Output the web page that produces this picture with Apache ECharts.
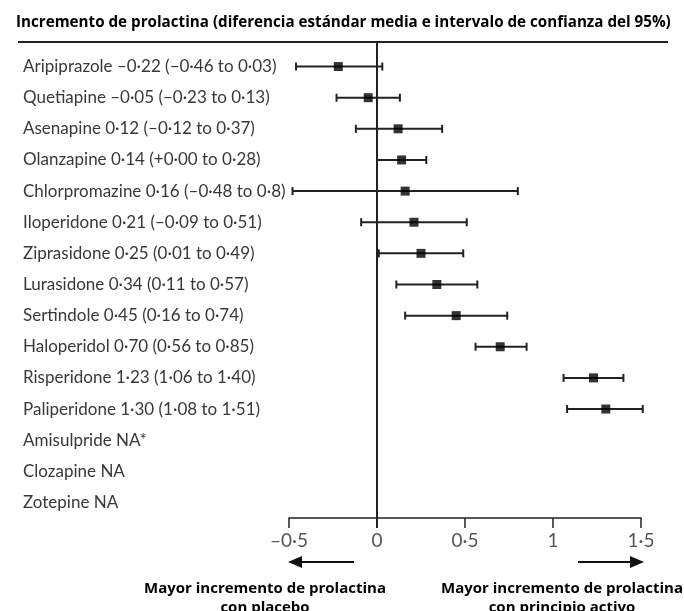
<!DOCTYPE html>
<html>
<head>
<meta charset="utf-8">
<script src="https://cdn.jsdelivr.net/npm/echarts@6/dist/echarts.min.js"></script>
<style>
html,body{margin:0;padding:0;background:#fff;}
#main{width:684px;height:611px;}
</style>
</head>
<body>
<div id="main"></div>
<script>
// 药物名称及标签
var labels = [
    'Aripiprazole –0·22 (–0·46 to 0·03)',
    'Quetiapine –0·05 (–0·23 to 0·13)',
    'Asenapine 0·12 (–0·12 to 0·37)',
    'Olanzapine 0·14 (+0·00 to 0·28)',
    'Chlorpromazine 0·16 (–0·48 to 0·8)',
    'Iloperidone 0·21 (–0·09 to 0·51)',
    'Ziprasidone 0·25 (0·01 to 0·49)',
    'Lurasidone 0·34 (0·11 to 0·57)',
    'Sertindole 0·45 (0·16 to 0·74)',
    'Haloperidol 0·70 (0·56 to 0·85)',
    'Risperidone 1·23 (1·06 to 1·40)',
    'Paliperidone 1·30 (1·08 to 1·51)',
    'Amisulpride NA*',
    'Clozapine NA',
    'Zotepine NA'
];
var means = [-0.22, -0.05, 0.12, 0.14, 0.16, 0.21, 0.25, 0.34, 0.45, 0.70, 1.23, 1.30, null, null, null];
var lower = [-0.46, -0.23, -0.12, 0.00, -0.48, -0.09, 0.01, 0.11, 0.16, 0.56, 1.06, 1.08, null, null, null];
var upper = [0.03, 0.13, 0.37, 0.28, 0.8, 0.51, 0.49, 0.57, 0.74, 0.85, 1.40, 1.51, null, null, null];
var xTicks = [-0.5, 0, 0.5, 1, 1.5];

var titleText = 'Incremento de prolactina (diferencia estándar media e intervalo de confianza del 95%)';
var leftNote = 'Mayor incremento de prolactina\ncon placebo';
var rightNote = 'Mayor incremento de prolactina\ncon principio activo';

var ciData = [], ptData = [];
for (var i = 0; i < labels.length; i++) {
    if (means[i] === null) continue;
    ciData.push([lower[i], upper[i], i]);
    ptData.push([means[i], i]);
}

function fmtTick(v) {
    return String(v).replace('-', '–').replace('.', '·');
}

var chart = echarts.init(document.getElementById('main'));
var option = {
    animation: false,
    title: {
        text: titleText,
        left: 11,
        top: 10,
        textStyle: {
            fontFamily: 'Open Sans',
            fontWeight: 'bold',
            fontSize: 15.2,
            color: '#000'
        }
    },
    grid: {
        left: 289,
        right: 43,
        top: 51,
        bottom: 93
    },
    xAxis: {
        type: 'value',
        min: -0.5,
        max: 1.5,
        interval: 0.5,
        splitLine: {show: false},
        axisLine: {show: true, onZero: false, lineStyle: {color: '#222', width: 1.5}},
        axisTick: {show: true, length: 10, lineStyle: {color: '#222', width: 1.5}},
        axisLabel: {
            margin: 13,
            color: '#555',
            fontFamily: 'Lato',
            fontSize: 19,
            formatter: function (v) {
                return xTicks.indexOf(v) >= 0 ? fmtTick(v) : '';
            }
        }
    },
    yAxis: {
        type: 'category',
        inverse: true,
        data: labels,
        axisLine: {show: false},
        axisTick: {show: false},
        splitLine: {show: false},
        axisLabel: {
            align: 'left',
            margin: 266,
            color: '#383838',
            fontFamily: 'Lato',
            fontSize: 17
        }
    },
    series: [{
        // 零参考线
        type: 'custom',
        silent: true,
        data: [[0]],
        renderItem: function (params, api) {
            var x = api.coord([0, 0])[0];
            var cs = params.coordSys;
            return {
                type: 'line',
                shape: {x1: x, y1: cs.y - 9, x2: x, y2: cs.y + cs.height + 10},
                style: {stroke: '#222', lineWidth: 2}
            };
        }
    }, {
        // 置信区间
        type: 'custom',
        silent: true,
        data: ciData,
        renderItem: function (params, api) {
            var p1 = api.coord([api.value(0), api.value(2)]);
            var p2 = api.coord([api.value(1), api.value(2)]);
            var h = 4;
            var st = {stroke: '#222', lineWidth: 2};
            return {
                type: 'group',
                children: [
                    {type: 'line', shape: {x1: p1[0], y1: p1[1], x2: p2[0], y2: p2[1]}, style: st},
                    {type: 'line', shape: {x1: p1[0], y1: p1[1] - h, x2: p1[0], y2: p1[1] + h}, style: st},
                    {type: 'line', shape: {x1: p2[0], y1: p2[1] - h, x2: p2[0], y2: p2[1] + h}, style: st}
                ]
            };
        }
    }, {
        type: 'scatter',
        silent: true,
        symbol: 'rect',
        symbolSize: 9,
        itemStyle: {color: '#000'},
        data: ptData,
        z: 3
    }],
    graphic: [{
        type: 'line',
        shape: {x1: 18, y1: 42, x2: 668, y2: 42},
        style: {stroke: '#222', lineWidth: 2}
    }, {
        type: 'line',
        shape: {x1: 300, y1: 562, x2: 354, y2: 562},
        style: {stroke: '#111', lineWidth: 2}
    }, {
        type: 'polygon',
        shape: {points: [[288, 562], [302, 556], [302, 568]]},
        style: {fill: '#111'}
    }, {
        type: 'line',
        shape: {x1: 578, y1: 562, x2: 632, y2: 562},
        style: {stroke: '#111', lineWidth: 2}
    }, {
        type: 'polygon',
        shape: {points: [[644, 562], [630, 556], [630, 568]]},
        style: {fill: '#111'}
    }, {
        type: 'text',
        x: 265,
        y: 579,
        style: {
            text: leftNote,
            align: 'center',
            fill: '#000',
            font: 'bold 15px "Open Sans"',
            lineHeight: 19
        }
    }, {
        type: 'text',
        x: 562,
        y: 579,
        style: {
            text: rightNote,
            align: 'center',
            fill: '#000',
            font: 'bold 15px "Open Sans"',
            lineHeight: 19
        }
    }]
};
chart.setOption(option);
</script>
</body>
</html>
